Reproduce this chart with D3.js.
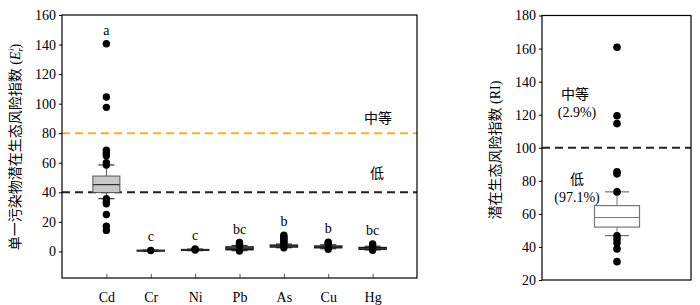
<!DOCTYPE html>
<html><head><meta charset="utf-8">
<script src="https://cdn.jsdelivr.net/npm/d3@7"></script>
<style>body{margin:0;background:#fff}svg{display:block}</style>
</head><body><svg id="c" width="700" height="305"></svg>
<script>
// ---- data (left panel: single-pollutant Er) ----
const categories = ["Cd","Cr","Ni","Pb","As","Cu","Hg"];
const q1         = [39.8, 0.3, 0.8, 1.2, 3.0, 2.5, 1.5];
const medians    = [45.2, 0.5, 1.0, 2.0, 3.6, 3.0, 2.0];
const q3         = [51.0, 0.7, 1.2, 3.0, 4.2, 3.6, 2.6];
const whiskLo    = [35.7, 0.2, 0.5, 0.5, 2.5, 1.8, 1.0];
const whiskHi    = [58.5, 0.9, 1.6, 4.0, 5.0, 4.5, 3.5];
const outliers   = [
  [140.5, 104.5, 97.5, 68.5, 66.5, 64.8, 60, 58.5, 35.7, 33.8, 32.2, 25, 17, 14.2],
  [0.6],
  [1.0, 1.6],
  [0.2, 3.8, 5.0, 6.0],
  [2.5, 5.0, 6.0, 7.0, 8.0, 9.0, 10.0, 11.0],
  [1.5, 4.5, 5.5, 6.2],
  [0.8, 3.0, 4.0, 5.0]
];
const letters    = ["a","c","c","bc","b","b","bc"];
const leftTicks  = [0,20,40,60,80,100,120,140,160];
const thresholdsLeft = [{v:80, label:"中等", color:"#f5b41e"}, {v:40, label:"低", color:"#222"}];

// ---- data (right panel: RI) ----
const riBox      = {q1:52, median:57.8, q3:65, lo:46.8, hi:73.3};
const riOutliers = [160.8, 119.4, 114.6, 85.5, 84.2, 73.3, 46.8, 44.8, 42.5, 38.8, 31.1];
const rightTicks = [20,40,60,80,100,120,140,160,180];
const riThreshold = 100;
const riLabels   = [{name:"中等", pct:"(2.9%)"}, {name:"低", pct:"(97.1%)"}];

const svg = d3.select("#c");
const serif = "'Liberation Serif', 'DejaVu Serif', serif";
const cjk = "'Liberation Serif', 'Noto Sans CJK SC', 'DejaVu Serif', serif";
function T(sel, fam){ return sel.attr("font-family", null).style("font-family", fam).style("font-size","14px"); }

// ===== Left panel =====
const L = {x0:62, x1:417, y0:15, y1:278};
const x = d3.scalePoint().domain(categories).range([L.x0, L.x1]).padding(1);
const y = d3.scaleLinear().domain([-18,160]).range([L.y1, L.y0]);
const gl = svg.append("g");

thresholdsLeft.forEach(t => {
  gl.append("line").attr("x1",L.x0).attr("x2",L.x1).attr("y1",y(t.v)).attr("y2",y(t.v))
    .attr("stroke",t.color).attr("stroke-width",2).attr("stroke-dasharray","8,5");
});
T(gl.append("text").attr("x",378).attr("y",y(80)-10).attr("text-anchor","middle"),cjk).text(thresholdsLeft[0].label);
T(gl.append("text").attr("x",377).attr("y",y(40)-14).attr("text-anchor","middle"),cjk).text(thresholdsLeft[1].label);

const bw = 27, cw = 16;
categories.forEach((c,i) => {
  const cx = x(c);
  const g = gl.append("g");
  g.append("line").attr("x1",cx).attr("x2",cx).attr("y1",y(whiskHi[i])).attr("y2",y(q3[i])).attr("stroke","#555").attr("stroke-width",1);
  g.append("line").attr("x1",cx).attr("x2",cx).attr("y1",y(whiskLo[i])).attr("y2",y(q1[i])).attr("stroke","#555").attr("stroke-width",1);
  g.append("line").attr("x1",cx-cw/2).attr("x2",cx+cw/2).attr("y1",y(whiskHi[i])).attr("y2",y(whiskHi[i])).attr("stroke","#333").attr("stroke-width",1.2);
  g.append("line").attr("x1",cx-cw/2).attr("x2",cx+cw/2).attr("y1",y(whiskLo[i])).attr("y2",y(whiskLo[i])).attr("stroke","#333").attr("stroke-width",1.2);
  g.append("rect").attr("x",cx-bw/2).attr("width",bw).attr("y",y(q3[i])).attr("height",Math.max(y(q1[i])-y(q3[i]),0.5))
    .attr("fill","#c8c8c8").attr("stroke", i===0 ? "#555" : "#111").attr("stroke-width", i===0 ? 1 : 1.5);
  g.append("line").attr("x1",cx-bw/2).attr("x2",cx+bw/2).attr("y1",y(medians[i])).attr("y2",y(medians[i])).attr("stroke","#333").attr("stroke-width",1.2);
  outliers[i].forEach(v => g.append("circle").attr("cx",cx).attr("cy",y(v)).attr("r",3.7).attr("fill","#000"));
  const top = d3.max(outliers[i].concat([whiskHi[i]]));
  T(g.append("text").attr("x",cx).attr("y",y(top)-9).attr("text-anchor","middle"),serif).text(letters[i]);
});

const yaxL = gl.append("g").attr("transform",`translate(${L.x0},0)`)
  .call(d3.axisLeft(y).tickValues(leftTicks).tickSize(3).tickPadding(3));
yaxL.attr("font-family",null).attr("font-size",null);
yaxL.select(".domain").remove();
T(yaxL.selectAll("text"),serif).attr("fill","#000");
const xaxL = gl.append("g").attr("transform",`translate(0,${L.y1})`)
  .call(d3.axisBottom(x).tickSize(-4).tickPadding(14));
xaxL.attr("font-family",null).attr("font-size",null);
xaxL.select(".domain").remove();
xaxL.selectAll("line").attr("stroke","#555");
T(xaxL.selectAll("text"),serif).attr("fill","#000");
gl.append("rect").attr("x",L.x0).attr("y",L.y0).attr("width",L.x1-L.x0).attr("height",L.y1-L.y0)
  .attr("fill","none").attr("stroke","#000").attr("stroke-width",1.2);

const ylab = T(gl.append("text").attr("transform","translate(20,147) rotate(-90)").attr("text-anchor","middle"),cjk);
ylab.append("tspan").text("单一污染物潜在生态风险指数 (");
ylab.append("tspan").style("font-style","italic").text("E");
ylab.append("tspan").attr("dy",3).style("font-size","9px").style("font-style","italic").text("r");
ylab.append("tspan").attr("dy",-9).attr("dx",-3).style("font-size","9px").style("font-style","italic").text("i");
ylab.append("tspan").attr("dy",6).text(")");

// ===== Right panel =====
const R = {x0:542, x1:691, y0:15.5, y1:280};
const yr = d3.scaleLinear().domain([20,180]).range([R.y1, R.y0]);
const cxr = 617;
const gr = svg.append("g");
gr.append("line").attr("x1",R.x0).attr("x2",R.x1).attr("y1",yr(riThreshold)).attr("y2",yr(riThreshold))
  .attr("stroke","#222").attr("stroke-width",2).attr("stroke-dasharray","8,5");
const rbw = 45, rcw = 24;
gr.append("line").attr("x1",cxr).attr("x2",cxr).attr("y1",yr(riBox.hi)).attr("y2",yr(riBox.q3)).attr("stroke","#777");
gr.append("line").attr("x1",cxr).attr("x2",cxr).attr("y1",yr(riBox.lo)).attr("y2",yr(riBox.q1)).attr("stroke","#777");
gr.append("line").attr("x1",cxr-rcw/2).attr("x2",cxr+rcw/2).attr("y1",yr(riBox.hi)).attr("y2",yr(riBox.hi)).attr("stroke","#555");
gr.append("line").attr("x1",cxr-rcw/2).attr("x2",cxr+rcw/2).attr("y1",yr(riBox.lo)).attr("y2",yr(riBox.lo)).attr("stroke","#555");
gr.append("rect").attr("x",cxr-rbw/2).attr("width",rbw).attr("y",yr(riBox.q3)).attr("height",yr(riBox.q1)-yr(riBox.q3))
  .attr("fill","#fff").attr("stroke","#777").attr("stroke-width",1.2);
gr.append("line").attr("x1",cxr-rbw/2).attr("x2",cxr+rbw/2).attr("y1",yr(riBox.median)).attr("y2",yr(riBox.median)).attr("stroke","#777").attr("stroke-width",1.2);
riOutliers.forEach(v => gr.append("circle").attr("cx",cxr).attr("cy",yr(v)).attr("r",3.8).attr("fill","#000"));

const tl = [[575,99],[577,117],[577,184],[577,202]];
T(gr.append("text").attr("x",tl[0][0]).attr("y",tl[0][1]).attr("text-anchor","middle"),cjk).text(riLabels[0].name);
T(gr.append("text").attr("x",tl[1][0]).attr("y",tl[1][1]).attr("text-anchor","middle"),serif).text(riLabels[0].pct);
T(gr.append("text").attr("x",tl[2][0]).attr("y",tl[2][1]).attr("text-anchor","middle"),cjk).text(riLabels[1].name);
T(gr.append("text").attr("x",tl[3][0]).attr("y",tl[3][1]).attr("text-anchor","middle"),serif).text(riLabels[1].pct);

const yaxR = gr.append("g").attr("transform",`translate(${R.x0},0)`)
  .call(d3.axisLeft(yr).tickValues(rightTicks).tickSize(3).tickPadding(3));
yaxR.attr("font-family",null).attr("font-size",null);
yaxR.select(".domain").remove();
T(yaxR.selectAll("text"),serif).attr("fill","#000");
gr.append("rect").attr("x",R.x0).attr("y",R.y0).attr("width",R.x1-R.x0).attr("height",R.y1-R.y0)
  .attr("fill","none").attr("stroke","#000").attr("stroke-width",1.2);
T(gr.append("text").attr("transform","translate(500,150) rotate(-90)").attr("text-anchor","middle"),cjk).text("潜在生态风险指数 (RI)");
</script></body></html>
